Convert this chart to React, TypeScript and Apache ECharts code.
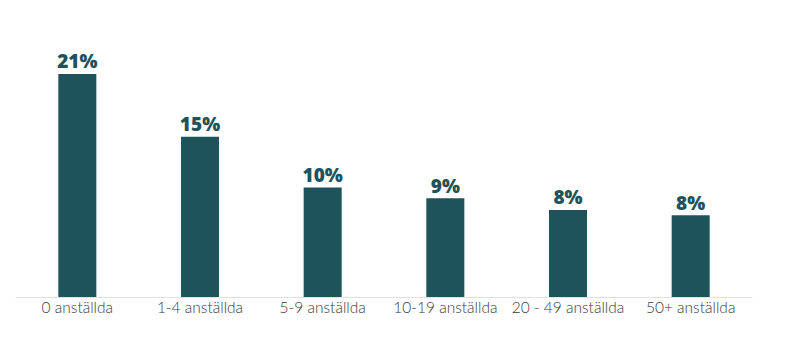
import React, { useEffect, useRef } from "react";
import * as echarts from "echarts";

const categories = ["0 anställda", "1-4 anställda", "5-9 anställda", "10-19 anställda", "20 - 49 anställda", "50+ anställda"];
const values = [21.0, 15.1, 10.3, 9.3, 8.2, 7.7];

export default function App() {
  const ref = useRef<HTMLDivElement>(null);
  useEffect(() => {
    const chart = echarts.init(ref.current!, null, { renderer: "svg" });
    chart.setOption({
      animation: false,
      grid: { left: 16, right: 55, top: 40, bottom: 56 },
      xAxis: {
        type: "category",
        data: categories,
        axisLine: { lineStyle: { color: "#e0e0e0", width: 1 } },
        axisTick: { show: false },
        axisLabel: { color: "#3a3a3a", fontFamily: "Lato", fontWeight: 300, fontSize: 15.5, margin: 2, interval: 0 },
      },
      yAxis: { type: "value", min: 0, max: 24.2, show: false, splitLine: { show: false } },
      series: [
        {
          type: "bar",
          data: values,
          barWidth: 38,
          itemStyle: { color: "#1f535b" },
          label: {
            show: true,
            position: "top",
            distance: 3,
            formatter: (p: any) => Math.round(p.value) + "%",
            color: "#1f535b",
            fontFamily: "Open Sans",
            fontWeight: 800,
            fontSize: 19,
          },
        },
      ],
    });
    return () => chart.dispose();
  }, []);
  return <div ref={ref} style={{ width: 807, height: 353, margin: -8 }} />;
}
